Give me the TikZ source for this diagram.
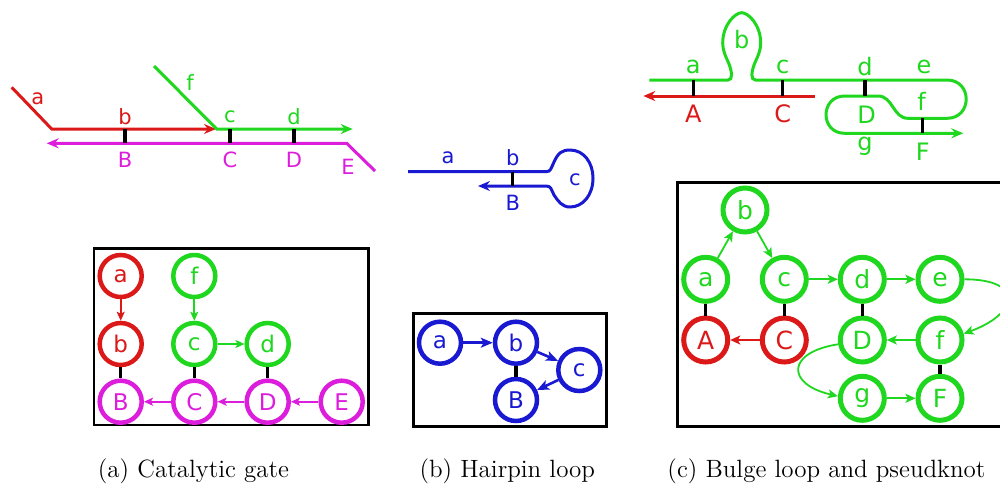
\documentclass[tikz,border=0pt]{standalone}
\usepackage{fontspec}
\newfontfamily\lab{DejaVu Sans}
\usetikzlibrary{arrows.meta}
\definecolor{colr}{RGB}{220,25,25}
\definecolor{colg}{RGB}{30,215,30}
\definecolor{colm}{RGB}{220,30,220}
\definecolor{colb}{RGB}{25,25,210}
\begin{document}
\begin{tikzpicture}[x=0.5pt,y=-0.5pt,
  strand/.style={line width=1.5pt},
  stip/.style={-{Stealth[length=6pt,width=5pt,inset=2pt]}},
  tick/.style={black,line width=1.6pt},
  slab/.style={inner sep=0pt,text=#1,font=\lab\fontsize{10.5}{12}\selectfont},
  clab/.style={inner sep=0pt,text=#1,font=\lab\fontsize{12}{14}\selectfont},
  circ/.style={circle,draw=#1,text=#1,line width=2.25pt,minimum size=21pt,inner sep=0pt,font=\lab\fontsize{11.5}{13}\selectfont},
  ccirc/.style={circle,draw=#1,text=#1,line width=2.5pt,minimum size=22pt,inner sep=0pt,font=\lab\fontsize{12.5}{14}\selectfont},
  garr/.style={line width=1pt,-{Stealth[length=4.5pt,width=4pt,inset=1pt]}},
  barr/.style={line width=1.3pt,-{Stealth[length=6pt,width=5pt,inset=1.5pt]}},
  carr/.style={line width=0.9pt,-{Stealth[length=5pt,width=4.5pt,inset=1.2pt]}},
  frame/.style={line width=1.4pt},
  captext/.style={inner sep=0pt,font=\fontsize{12.5}{15}\selectfont}]
\useasboundingbox (0,0) rectangle (1000,483);
% ---------- (a) strands ----------
\draw[strand,colr,stip] (11.7,87.3) -- (51.7,129) -- (216,129);
\draw[strand,colg,stip] (154,66) -- (216.7,129) -- (352.7,129);
\draw[strand,colm,stip] (375,171) -- (346.7,143.3) -- (46.7,143.3);
\foreach \x in {125,230,294} \draw[tick] (\x,129) -- (\x,143.3);
\node[slab=colr] (sa) at (37.7,98.3) {a};
\node[slab=colr] (sb) at (125,116.7) {b};
\node[slab=colg] (sf) at (190,83) {f};
\node[slab=colg] (sc) at (230,116.7) {c};
\node[slab=colg] (sd) at (294,116.7) {d};
\node[slab=colm] (sB) at (125,160) {B};
\node[slab=colm] (sC) at (230,160) {C};
\node[slab=colm] (sD) at (294,160) {D};
\node[slab=colm] (sE) at (348,166.7) {E};
% ---------- (b) strand ----------
\draw[strand,colb,stip] (408,171.7) -- (546,171.7)
  .. controls (551,171.7) and (551,168) .. (554,162)
  .. controls (558,153) and (562,150) .. (570,150)
  .. controls (584,150) and (593,163) .. (593,178)
  .. controls (593,195) and (583,207) .. (570,207)
  .. controls (562,207) and (558,201) .. (554,195)
  .. controls (551,189) and (551,186) .. (546,186) -- (478,186);
\draw[tick] (512.7,171.7) -- (512.7,186);
\node[slab=colb] (ta) at (448,158) {a};
\node[slab=colb] (tb) at (512.7,158) {b};
\node[slab=colb] (tB) at (512.7,202.7) {B};
\node[slab=colb] (tc) at (575,180) {c};
% ---------- (c) strands ----------
\draw[strand,colg,stip] (649.3,80) -- (728,80)
  .. controls (733,80) and (732,72) .. (729,64)
  .. controls (725,55) and (722.7,50) .. (722.7,43)
  .. controls (722.7,25) and (735,12.7) .. (741.7,12.7)
  .. controls (748.4,12.7) and (760.7,25) .. (760.7,43)
  .. controls (760.7,50) and (758.4,55) .. (754.4,64)
  .. controls (751.4,72) and (750.4,80) .. (755.4,80)
  -- (947,80)
  .. controls (972.6,80) and (972.6,118.3) .. (947,118.3)
  -- (908,118.3)
  .. controls (893,118.3) and (893,96) .. (878,96)
  -- (844.7,96)
  .. controls (819.8,96) and (819.8,133.3) .. (844.7,133.3)
  -- (963.3,133.3);
\draw[strand,colr,stip] (815,96) -- (643.3,96);
\foreach \x in {693.3,782.7,865} \draw[tick] (\x,80) -- (\x,96);
\draw[tick] (922.7,118.3) -- (922.7,133.3);
\node[clab=colg] (ua) at (693.3,66.7) {a};
\node[clab=colg] (ub) at (741.7,40) {b};
\node[clab=colg] (uc) at (782.7,66.7) {c};
\node[clab=colg] (ud) at (865,66.7) {d};
\node[clab=colg] (ue) at (924,66.7) {e};
\node[clab=colr] (uA) at (693.3,113.3) {A};
\node[clab=colr] (uC) at (782.7,113.3) {C};
\node[clab=colg] (uD) at (866.7,115) {D};
\node[clab=colg] (uf) at (921.7,101.7) {f};
\node[clab=colg] (ug) at (865,146.7) {g};
\node[clab=colg] (uF) at (922.7,151.7) {F};
% ---------- (a) graph ----------
\draw[frame] (94,248.3) rectangle (368.3,425);
\node[circ=colr] (ga) at (120.7,276) {a};
\node[circ=colr] (gb) at (120.7,344) {b};
\node[circ=colg] (gf) at (194.3,276) {f};
\node[circ=colg] (gc) at (194.3,344) {c};
\node[circ=colg] (gd) at (267.7,344) {d};
\node[circ=colm] (gB) at (120.7,401.7) {B};
\node[circ=colm] (gC) at (194.3,401.7) {C};
\node[circ=colm] (gD) at (267.7,401.7) {D};
\node[circ=colm] (gE) at (341.7,401.7) {E};
\draw[garr,colr] (ga) -- (gb);
\draw[garr,colg] (gf) -- (gc);
\draw[garr,colg] (gc) -- (gd);
\draw[garr,colm] (gE) -- (gD);
\draw[garr,colm] (gD) -- (gC);
\draw[garr,colm] (gC) -- (gB);
\draw[tick] (gb) -- (gB);
\draw[tick] (gc) -- (gC);
\draw[tick] (gd) -- (gD);
% ---------- (b) graph ----------
\draw[frame] (413.3,313.3) rectangle (606.7,426.7);
\node[circ=colb] (ha) at (440,342.7) {a};
\node[circ=colb] (hb) at (516,342.7) {b};
\node[circ=colb] (hc) at (579.3,370) {c};
\node[circ=colb] (hB) at (516,400) {B};
\draw[barr,colb] (ha) -- (hb);
\draw[barr,colb] (hb) -- (hc);
\draw[barr,colb] (hc) -- (hB);
\draw[tick] (hb) -- (hB);
% ---------- (c) graph ----------
\draw[frame] (677.7,182.7) rectangle (1010,426.7);
\node[ccirc=colg] (kb) at (745,210) {b};
\node[ccirc=colg] (ka) at (705.7,279.3) {a};
\node[ccirc=colg] (kc) at (784.3,279.3) {c};
\node[ccirc=colg] (kd) at (862.3,279.3) {d};
\node[ccirc=colg] (ke) at (940,279.3) {e};
\node[ccirc=colr] (kA) at (705.7,340) {A};
\node[ccirc=colr] (kC) at (784.3,340) {C};
\node[ccirc=colg] (kD) at (862.3,340) {D};
\node[ccirc=colg] (kf) at (940,340) {f};
\node[ccirc=colg] (kg) at (862.3,398.3) {g};
\node[ccirc=colg] (kF) at (940,398.3) {F};
\draw[carr,colg] (ka) -- (kb);
\draw[carr,colg] (kb) -- (kc);
\draw[carr,colg] (kc) -- (kd);
\draw[carr,colg] (kd) -- (ke);
\draw[carr,colg] (ke.east) .. controls +(60,0) and +(55,-20) .. (kf.15);
\draw[carr,colg] (kf) -- (kD);
\draw[carr,colg] (kD.190) .. controls +(-52,8) and +(-52,-12) .. (kg.175);
\draw[carr,colg] (kg) -- (kF);
\draw[carr,colr] (kC) -- (kA);
\draw[tick] (ka) -- (kA);
\draw[tick] (kc) -- (kC);
\draw[tick] (kd) -- (kD);
\draw[tick] (kf) -- (kF);
% ---------- captions ----------
\node[captext] (capa) at (193.5,471) {(a) Catalytic gate};
\node[captext] (capb) at (507.3,471) {(b) Hairpin loop};
\node[captext] (capc) at (826.5,471) {(c) Bulge loop and pseudknot};
\end{tikzpicture}
\end{document}
